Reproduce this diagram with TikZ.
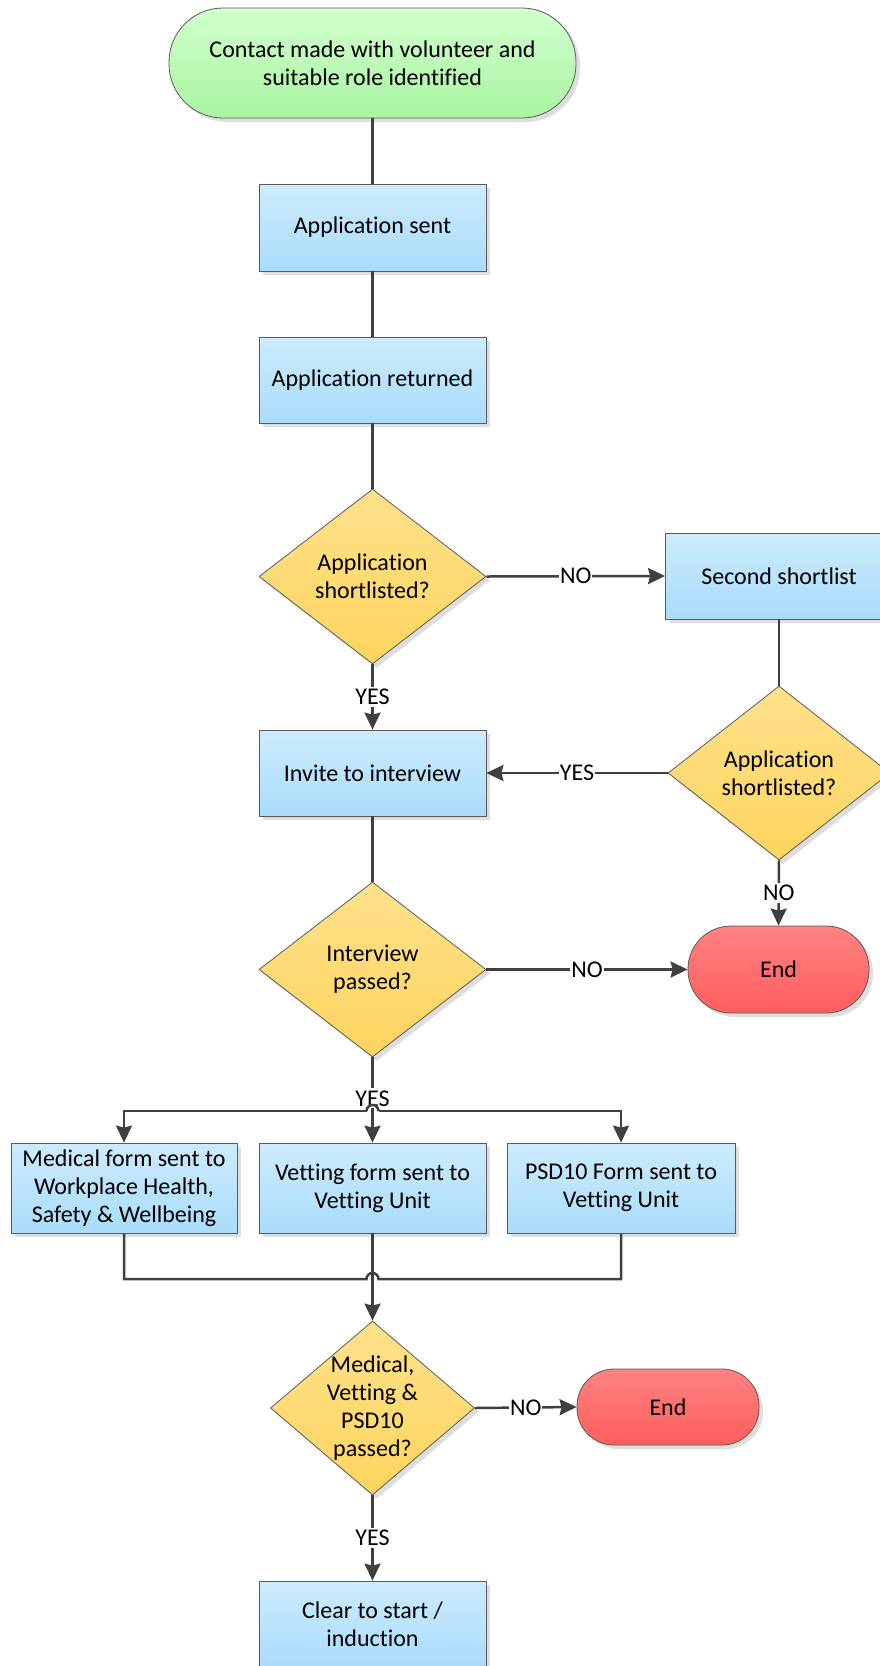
\documentclass[tikz,border=0pt]{standalone}
\usepackage{fontspec}
\setmainfont{Carlito}[Ligatures=NoCommon]
\usetikzlibrary{shapes.geometric,arrows.meta,shadows,calc}
\definecolor{lnc}{HTML}{404040}
\definecolor{bdr}{HTML}{5A5A5A}
\definecolor{bluet}{HTML}{CDEBFD}
\definecolor{blueb}{HTML}{A9DCFB}
\definecolor{yelt}{HTML}{FEE18C}
\definecolor{yelb}{HTML}{FDD45E}
\definecolor{redt}{HTML}{FF8282}
\definecolor{redb}{HTML}{FF5D5D}
\definecolor{grnt}{HTML}{D2FFCE}
\definecolor{grnb}{HTML}{A8F5A0}
\begin{document}
\begin{tikzpicture}[x=1pt,y=-1pt,
  every node/.style={font=\fontsize{24}{28}\selectfont, text=black},
  shad/.style={drop shadow={shadow xshift=4pt,shadow yshift=-4pt,fill=black!13,opacity=1}},
  procbox/.style={shad, rectangle, draw=bdr, line width=0.8pt, top color=bluet, bottom color=blueb,
    minimum width=227pt, minimum height=87pt, inner sep=0pt, align=center},
  decbox/.style={shad, diamond, draw=bdr, line width=0.8pt, top color=yelt, bottom color=yelb,
    inner sep=0pt, minimum width=227pt, minimum height=175pt},
  termg/.style={shad, rectangle, draw=bdr, line width=0.8pt, top color=grnt, bottom color=grnb,
    align=center, inner sep=0pt},
  termr/.style={shad, rectangle, draw=bdr, line width=0.8pt, top color=redt, bottom color=redb,
    align=center, inner sep=0pt},
  dtext/.style={label={[align=center]center:#1}},
  conn/.style={draw=lnc, line width=2.5pt},
  arr/.style={conn, -{Stealth[length=17pt,width=16pt,inset=2pt]}},
  lbl/.style={fill=white, inner xsep=1pt, inner ysep=2pt}
]
\useasboundingbox (0,0) rectangle (880,1666);

% nodes
\node[termg, minimum width=407pt, minimum height=110pt, rounded corners=54pt] (start) at (372.5,63)
  {Contact made with volunteer and\\suitable role identified};
\node[procbox] (appsent) at (372.5,227.5) {Application sent};
\node[procbox, minimum height=86pt] (appret) at (372.5,380) {Application returned};
\node[decbox, dtext={Application\\shortlisted?}] (d1) at (372.5,576.5) {};
\node[procbox, minimum height=86pt] (sec) at (779,576) {Second shortlist};
\node[decbox, minimum width=222pt, minimum height=174pt, dtext={Application\\shortlisted?}] (d2) at (779,773) {};
\node[procbox, minimum height=86pt] (invite) at (372.5,773) {Invite to interview};
\node[decbox, dtext={Interview\\passed?}] (d3) at (372.5,969.5) {};
\node[termr, minimum width=181pt, minimum height=87pt, rounded corners=43pt] (end1) at (778.5,969.5) {End};
\node[procbox, minimum width=226pt, minimum height=90pt] (box1) at (124,1188)
  {Medical form sent to\\Workplace Health,\\Safety \& Wellbeing};
\node[procbox, minimum height=90pt] (box2) at (372.5,1188) {Vetting form sent to\\Vetting Unit};
\node[procbox, minimum width=228pt, minimum height=90pt] (box3) at (621,1188) {PSD10 Form sent to\\Vetting Unit};
\node[decbox, minimum width=204pt, minimum height=174pt, dtext={Medical,\\Vetting \&\\PSD10\\passed?}] (d4) at (372.5,1408) {};
\node[termr, minimum width=182pt, minimum height=76pt, rounded corners=37pt] (end2) at (668,1407) {End};
\node[procbox] (final) at (372.5,1624.5) {Clear to start /\\induction};

\coordinate (hC) at (372.5,1111);
\coordinate (jC) at (372.5,1279);

% connectors
\draw[conn] (start) -- (appsent);
\draw[conn] (appsent) -- (appret);
\draw[conn] (appret) -- (d1);
\draw[arr] (d1.east) -- node[lbl]{NO} (sec.west);
\draw[arr] (d1.south) -- node[lbl]{YES} (invite.north);
\draw[conn] (sec) -- (d2);
\draw[arr] (d2.west) -- node[lbl]{YES} (invite.east);
\draw[arr] (d2.south) -- node[lbl]{NO} (end1.north);
\draw[conn] (invite) -- (d3);
\draw[arr] (d3.east) -- node[lbl]{NO} (end1.west);

\draw[arr] (d3.south) -- node[lbl, pos=0.48]{YES} (box2.north);
\draw[arr] ($(hC)+(-6,0)$) -| (box1.north);
\draw[arr] ($(hC)+(6,0)$) -| (box3.north);
\draw[conn] ($(hC)+(-6,0)$) arc(180:360:6);

\draw[arr] (box2.south) -- (d4.north);
\draw[conn] (box1.south) |- ($(jC)+(-6,0)$) arc(180:360:6) -| (box3.south);

\draw[arr] (d4.east) -- node[lbl]{NO} (end2.west);
\draw[arr] (d4.south) -- node[lbl]{YES} (final.north);
\end{tikzpicture}
\end{document}
